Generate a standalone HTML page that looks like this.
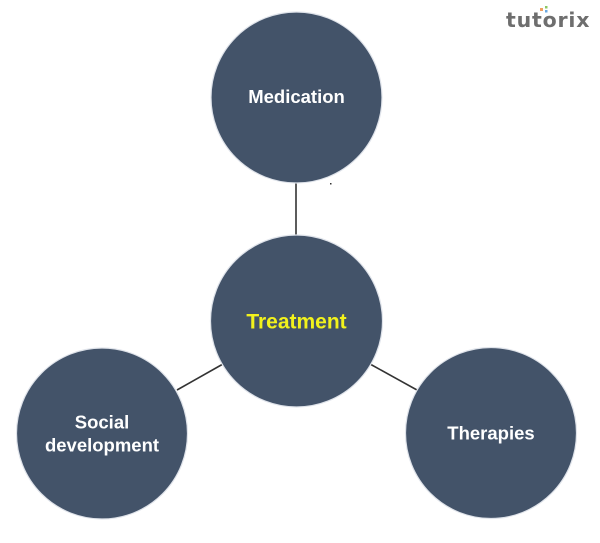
<!DOCTYPE html>
<html>
<head>
<meta charset="utf-8">
<style>
  html, body { margin: 0; padding: 0; background: #ffffff; }
  body { width: 600px; height: 543px; overflow: hidden; }
  svg { display: block; }
</style>
</head>
<body>
<svg width="600" height="543" viewBox="0 0 600 543" xmlns="http://www.w3.org/2000/svg">
  <rect width="600" height="543" fill="#ffffff"/>

  <!-- connectors -->
  <line x1="296" y1="183" x2="296" y2="236" stroke="#333333" stroke-width="1.6"/>
  <line x1="177" y1="390" x2="223" y2="364" stroke="#333333" stroke-width="1.6"/>
  <line x1="370" y1="364" x2="417" y2="390" stroke="#333333" stroke-width="1.6"/>
  <rect x="330" y="183" width="1.5" height="1.5" fill="#333"/>

  <!-- circles -->
  <g fill="#435369" stroke="#dfe3ea" stroke-width="1.2">
    <circle cx="296.5" cy="97.5" r="85.5"/>
    <circle cx="296.5" cy="321" r="86"/>
    <circle cx="102" cy="433.5" r="85.5"/>
    <circle cx="491" cy="433" r="85.5"/>
  </g>

  <!-- labels -->
  <g font-family="'Liberation Sans', 'DejaVu Sans', sans-serif" font-weight="bold" text-anchor="middle">
    <text x="296.5" y="103" font-size="18.5" fill="#ffffff">Medication</text>
    <text x="296.5" y="328.5" font-size="21" fill="#f2f21c">Treatment</text>
    <text x="102" y="428.5" font-size="18.5" fill="#ffffff">Social</text>
    <text x="102" y="451.5" font-size="18.5" fill="#ffffff">development</text>
    <text x="491" y="439.5" font-size="18.5" fill="#ffffff">Therapies</text>
  </g>

  <!-- logo -->
  <text x="506" y="27" font-family="'DejaVu Sans', 'Liberation Sans', sans-serif" font-weight="bold" font-size="20.5" letter-spacing="0.8" fill="#6e6e6e">tutorix</text>
  <rect x="540" y="8" width="3" height="3" fill="#f0a060"/>
  <rect x="545" y="6" width="2.5" height="2.5" fill="#8cc864"/>
  <rect x="545" y="10" width="2.5" height="2.5" fill="#6aa8e0"/>
</svg>
</body>
</html>
